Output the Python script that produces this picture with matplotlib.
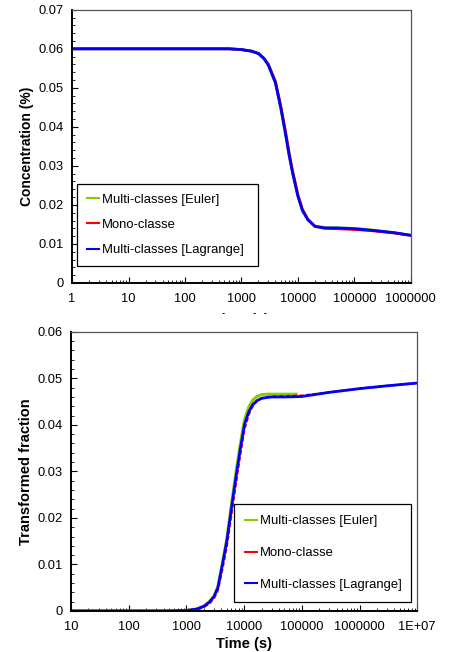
import numpy as np
import matplotlib.pyplot as plt
from matplotlib.transforms import Bbox, TransformedBbox
from matplotlib.ticker import FixedLocator, FixedFormatter, LogLocator, MultipleLocator

plt.rcParams['font.family'] = ['Liberation Sans', 'DejaVu Sans']

# --- top panel: concentration vs time ---
t_conc = [1, 10, 100, 300, 600, 1000, 1500, 2000, 2500, 3000, 4000, 5000, 6000,
          7000, 8000, 10000, 12000, 15000, 20000, 30000, 50000, 100000, 200000,
          500000, 1000000]
conc_euler = [0.06, 0.06, 0.06, 0.06, 0.06, 0.0598, 0.0594, 0.0588, 0.0575, 0.0558,
              0.0512, 0.0446, 0.0382, 0.0326, 0.0283, 0.0222, 0.0186, 0.0162, 0.0146,
              0.0142, 0.0141, 0.0140, 0.0136, 0.0129, 0.0122]
conc_mono = [0.06, 0.06, 0.06, 0.06, 0.06, 0.0598, 0.0594, 0.0588, 0.0576, 0.0560,
             0.0516, 0.0452, 0.0390, 0.0333, 0.0289, 0.0226, 0.0189, 0.0163, 0.0145,
             0.0140, 0.0139, 0.0137, 0.0134, 0.0128, 0.0122]
conc_lagrange = [0.06, 0.06, 0.06, 0.06, 0.06, 0.0598, 0.0594, 0.0588, 0.0575, 0.0558,
                 0.0513, 0.0447, 0.0384, 0.0327, 0.0284, 0.0222, 0.0186, 0.0162, 0.0145,
                 0.0141, 0.0141, 0.0139, 0.0135, 0.0129, 0.0122]
top_xticks = [1, 10, 100, 1000, 10000, 100000, 1000000]
top_xlabels = ["1", "10", "100", "1000", "10000", "100000", "1000000"]
top_yticks = [0, 0.01, 0.02, 0.03, 0.04, 0.05, 0.06, 0.07]
top_ylabels = ["0", "0.01", "0.02", "0.03", "0.04", "0.05", "0.06", "0.07"]

# --- bottom panel: transformed fraction vs time ---
t_frac = [10, 100, 500, 1000, 1500, 2000, 2500, 3000, 3500, 4200, 5000, 5700, 6500,
          7460, 8500, 10100, 12000, 14000, 16600, 20000, 25000, 30000, 50000, 100000,
          300000, 1000000, 3000000, 10000000]
frac_lagrange = [0, 0, 0, 0.0001, 0.0004, 0.0010, 0.0019, 0.0031, 0.0050, 0.0100,
                 0.0150, 0.0200, 0.0250, 0.0300, 0.0345, 0.0400, 0.0428, 0.0443,
                 0.0452, 0.0457, 0.0459, 0.0460, 0.0460, 0.0461, 0.0470, 0.0478,
                 0.0484, 0.0490]
t_euler = [10, 100, 500, 1000, 1500, 2000, 2500, 3000, 3500, 4200, 5000, 5700, 6500,
           7460, 8500, 10100, 12000, 14000, 16600, 20000, 25000, 30000, 50000, 80000]
frac_euler = [0, 0, 0, 0.0001, 0.0004, 0.0010, 0.0020, 0.0032, 0.0052, 0.0103,
              0.0155, 0.0207, 0.0258, 0.0310, 0.0356, 0.0410, 0.0438, 0.0453,
              0.0461, 0.0465, 0.0466, 0.0466, 0.0466, 0.0466]
frac_mono = [0, 0, 0, 0.0001, 0.0003, 0.0008, 0.0016, 0.0027, 0.0044, 0.0090,
             0.0138, 0.0187, 0.0236, 0.0286, 0.0333, 0.0390, 0.0422, 0.0440,
             0.0451, 0.0457, 0.0460, 0.0461, 0.0462, 0.0463, 0.0470, 0.0478,
             0.0484, 0.0490]
bot_xticks = [10, 100, 1000, 10000, 100000, 1000000, 10000000]
bot_xlabels = ["10", "100", "1000", "10000", "100000", "1000000", "1E+07"]
bot_yticks = [0, 0.01, 0.02, 0.03, 0.04, 0.05, 0.06]
bot_ylabels = ["0", "0.01", "0.02", "0.03", "0.04", "0.05", "0.06"]

labels = ["Multi-classes [Euler]", "Mono-classe", "Multi-classes [Lagrange]"]
colors = ["#88cc00", "#ff0000", "#0000ff"]

fig = plt.figure(figsize=(4.53, 6.52), dpi=100)
ax1 = fig.add_axes([0.159, 0.566, 0.748, 0.419])
ax2 = fig.add_axes([0.157, 0.063, 0.764, 0.428])


def style_axes(ax, xticks, xlabels, yticks, ylabels):
    ax.set_xscale("log")
    ax.xaxis.set_major_locator(FixedLocator(xticks))
    ax.xaxis.set_major_formatter(FixedFormatter(xlabels))
    ax.xaxis.set_minor_locator(LogLocator(base=10, subs=np.arange(2, 10)))
    ax.xaxis.set_minor_formatter(FixedFormatter([]))
    ax.yaxis.set_major_locator(FixedLocator(yticks))
    ax.yaxis.set_major_formatter(FixedFormatter(ylabels))
    ax.yaxis.set_minor_locator(MultipleLocator(0.002))
    ax.tick_params(which="both", direction="in", top=False, right=False,
                   labelsize=9.3, color="black")
    ax.tick_params(which="major", length=4, width=0.8, pad=7)
    ax.tick_params(which="minor", length=2.5, width=0.6)
    ax.tick_params(axis="y", pad=6)
    for side in ("left", "bottom"):
        ax.spines[side].set_linewidth(1.4)
    for side in ("top", "right"):
        ax.spines[side].set_linewidth(0.9)
        ax.spines[side].set_color("#555555")


def boxed_legend(ax, anchor, spacing, pad):
    leg = ax.legend(loc="lower left", bbox_to_anchor=anchor, mode="expand",
                    borderaxespad=0, fontsize=9.4, handlelength=0.9,
                    handletextpad=0.25, labelspacing=spacing, borderpad=pad,
                    fancybox=False, framealpha=1)
    leg.get_frame().set_edgecolor("black")
    leg.get_frame().set_linewidth(0.9)
    for line in leg.get_lines():
        line.set_linestyle("-")
        line.set_linewidth(1.5)
    return leg


ax1.plot(t_conc, conc_euler, color=colors[0], lw=2, label=labels[0])
ax1.plot(t_conc, conc_mono, color=colors[1], lw=2, label=labels[1])
ax1.plot(t_conc, conc_lagrange, color=colors[2], lw=2, label=labels[2])
ax1.set_xlim(1, 1e6)
ax1.set_ylim(0, 0.07)
style_axes(ax1, top_xticks, top_xlabels, top_yticks, top_ylabels)
ax1.set_ylabel("Concentration (%)", fontsize=10, fontweight="bold", labelpad=3)
ax1.set_xlabel("Time (s)", fontsize=10.5, fontweight="bold", labelpad=6)
# the top panel's x label is mostly hidden in the original
ax1.xaxis.label.set_clip_box(
    TransformedBbox(Bbox([[0, 1 - 314 / 652], [1, 1]]), fig.transFigure))
ax1.xaxis.label.set_clip_on(True)
boxed_legend(ax1, (0.015, 0.062, 0.534, 0.3), 1.0, 0.75)

ax2.plot(t_euler, frac_euler, color=colors[0], lw=2.2, label=labels[0])
ax2.plot(t_frac, frac_mono, color=colors[1], lw=1.6, ls=(0, (2, 1)), label=labels[1])
ax2.plot(t_frac, frac_lagrange, color=colors[2], lw=2, label=labels[2])
ax2.set_xlim(10, 1e7)
ax2.set_ylim(0, 0.06)
style_axes(ax2, bot_xticks, bot_xlabels, bot_yticks, bot_ylabels)
ax2.set_ylabel("Transformed fraction", fontsize=10.5, fontweight="bold", labelpad=3)
ax2.set_xlabel("Time (s)", fontsize=10.5, fontweight="bold", labelpad=3)
boxed_legend(ax2, (0.471, 0.032, 0.512, 0.35), 1.5, 0.85)

fig.savefig("out.png", dpi=100)
